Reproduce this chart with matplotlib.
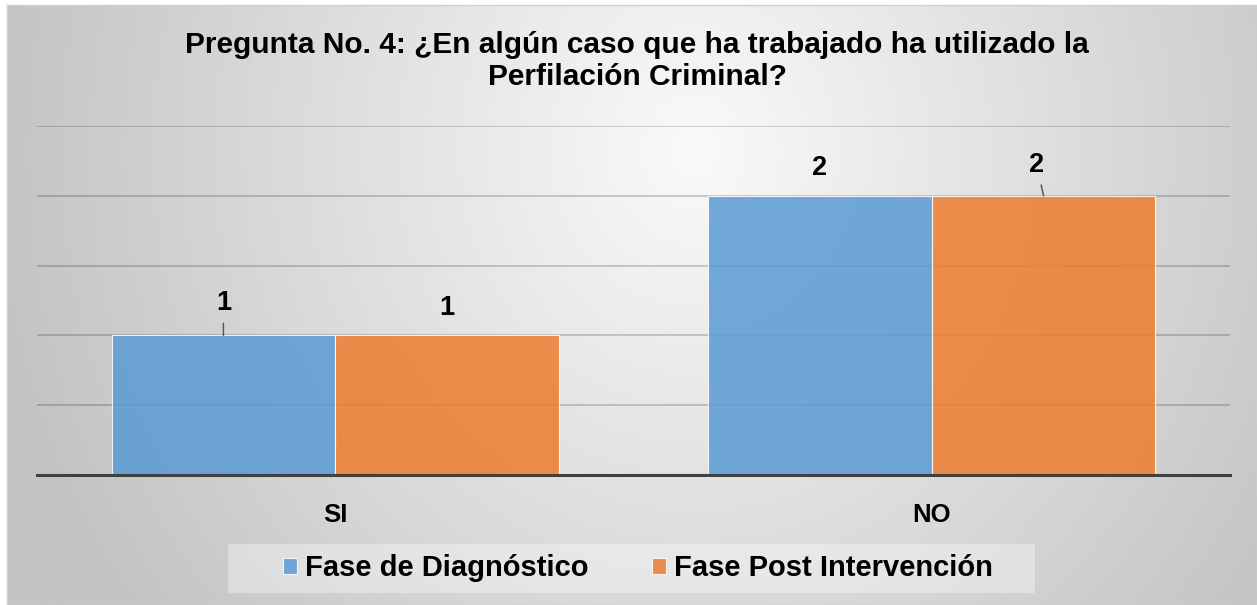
import matplotlib.pyplot as plt
import numpy as np
from matplotlib.patches import Rectangle

# datos de la pregunta 4
categorias = ["SI", "NO"]
diagnostico = [1, 2]
post_intervencion = [1, 2]
series = ["Fase de Diagnóstico", "Fase Post Intervención"]
titulo = "Pregunta No. 4: ¿En algún caso que ha trabajado ha utilizado la\nPerfilación Criminal?"

AZUL = "#5B9BD5"
NARANJA = "#ED7D31"

plt.rcParams["font.family"] = ["Liberation Sans", "DejaVu Sans"]
plt.rcParams["font.weight"] = "bold"

W, H = 1257, 605
fig = plt.figure(figsize=(W / 100, H / 100), dpi=100)
fig.patch.set_facecolor("white")

# fondo con degradado radial (estilo Excel)
bg = fig.add_axes([7 / W, 0, 1 - 7 / W, 1 - 5 / H], zorder=-2)
xx, yy = np.meshgrid(np.arange(7, W + 12), np.arange(5, H))
d = np.sqrt(((xx - 700) / 650.0) ** 2 + ((yy - 150) / 700.0) ** 2)
tono = np.clip(250 - 50 * d, 195, 250) / 255.0
bg.imshow(np.dstack([tono, tono, tono]), aspect="auto", interpolation="bilinear")
bg.set_xticks([])
bg.set_yticks([])
for s in bg.spines.values():
    s.set_color("#d0d0d0")
    s.set_linewidth(1)

ax = fig.add_axes([37 / W, 1 - 475 / H, (1230 - 37) / W, (475 - 126) / H])
ax.set_facecolor("none")

x = np.arange(len(categorias))
ancho = 0.375
b1 = ax.bar(x - ancho / 2, diagnostico, ancho, color=AZUL, alpha=0.86,
            edgecolor="white", linewidth=0.8, zorder=2, label=series[0])
b2 = ax.bar(x + ancho / 2, post_intervencion, ancho, color=NARANJA, alpha=0.86,
            edgecolor="white", linewidth=0.8, zorder=2, label=series[1])

ax.set_xlim(-0.5, 1.5)
ax.set_ylim(0, 2.5)
ax.set_yticks([0.5, 1, 1.5, 2, 2.5])
ax.yaxis.grid(True, color="black", alpha=0.18, linewidth=1.4)
ax.set_axisbelow(True)
ax.tick_params(axis="y", length=0, labelleft=False)
ax.set_xticks(x)
ax.set_xticklabels(categorias, fontsize=18.5, fontweight="bold")
ax.tick_params(axis="x", length=0, pad=20)
for lado in ["top", "right", "left"]:
    ax.spines[lado].set_visible(False)
ax.spines["bottom"].set_color("#404040")
ax.spines["bottom"].set_linewidth(2.2)
ax.spines["bottom"].set_zorder(3)

# etiquetas de datos (algunas movidas a mano, con linea guia)
desplaz = [[(0, 23, True), (0, 20, False)], [(0, 20, False), (-5, 22, True)]]
for j, barras in enumerate([b1, b2]):
    for i, r in enumerate(barras):
        dx, dy, guia = desplaz[i][j]
        xc = r.get_x() + r.get_width() / 2
        v = r.get_height()
        props = None
        if guia:
            props = dict(arrowstyle="-", color="#595959", lw=1.1,
                         shrinkA=3, shrinkB=0)
        ax.annotate(f"{v:g}", xy=(xc, v), xytext=(dx, dy),
                    textcoords="offset points", ha="center", va="center",
                    fontsize=19.5, fontweight="bold", arrowprops=props)

fig.text(637 / W, 1 - 31 / H, titulo, ha="center", va="top",
         fontsize=21.5, fontweight="bold", linespacing=1.2)

# caja de la leyenda
fig.patches.append(Rectangle((228 / W, 1 - 593 / H), (1035 - 228) / W, 49 / H,
                             transform=fig.transFigure, facecolor="white",
                             alpha=0.35, edgecolor="none", zorder=-1))
fig.legend(handles=[b1, b2], labels=series, loc="center",
           bbox_to_anchor=(638 / W, 1 - 568 / H), ncol=2, frameon=False,
           prop=dict(size=21, weight="bold"), handlelength=0.48,
           handleheight=0.48, handletextpad=0.25, columnspacing=2.2)

fig.savefig("out.png", dpi=100)
